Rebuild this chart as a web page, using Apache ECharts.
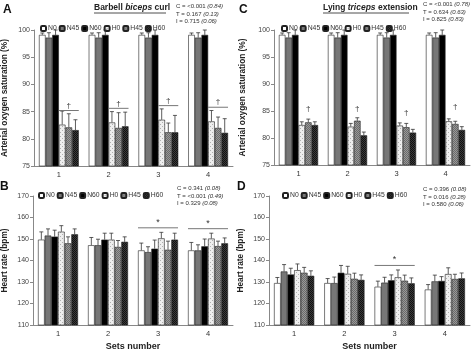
<!DOCTYPE html>
<html>
<head>
<meta charset="utf-8">
<script src="https://cdn.jsdelivr.net/npm/echarts@6/dist/echarts.min.js"></script>
<style>
  html, body { margin: 0; padding: 0; background: #fff; }
  #chart { width: 474px; height: 352px; }
</style>
</head>
<body>
<div id="chart"></div>
<script>
// categories
const sets = ['1', '2', '3', '4'];
const groups = ['N0', 'N45', 'N60', 'H0', 'H45', 'H60'];

// rows = groups (N0..H60), columns = sets 1..4
const bicepsSpO2 = [
  [99.1, 99.1, 99.1, 99.1],
  [98.6, 98.6, 98.6, 98.6],
  [99.1, 99.1, 99.1, 99.1],
  [82.6, 83.0, 83.5, 83.2],
  [82.1, 82.0, 81.2, 82.0],
  [81.6, 82.3, 81.2, 81.1]
];
const bicepsSpO2Err = [
  [0.35, 0.35, 0.35, 0.35],
  [0.9, 0.9, 0.9, 0.9],
  [0.9, 0.9, 0.9, 0.9],
  [2.5, 2.0, 2.0, 2.0],
  [2.5, 2.8, 1.7, 2.0],
  [1.9, 2.6, 3.1, 2.6]
];
const tricepsSpO2 = [
  [99.1, 99.1, 99.1, 99.1],
  [98.6, 98.6, 98.6, 98.6],
  [99.1, 99.1, 99.1, 99.1],
  [82.4, 82.1, 82.3, 83.1],
  [82.9, 83.2, 82.0, 82.6],
  [82.4, 80.5, 81.0, 81.5]
];
const tricepsSpO2Err = [
  [0.35, 0.35, 0.35, 0.35],
  [0.9, 0.9, 0.9, 0.9],
  [0.9, 0.9, 0.9, 0.9],
  [0.6, 0.6, 0.5, 0.45],
  [0.6, 0.55, 0.7, 0.5],
  [0.6, 0.6, 0.6, 0.6]
];
const bicepsHR = [
  [149.7, 147.1, 144.7, 144.7],
  [151.6, 147.1, 143.9, 144.7],
  [151.1, 149.7, 145.5, 146.6],
  [153.4, 149.7, 150.3, 150.2],
  [148.0, 146.3, 145.0, 146.7],
  [152.2, 148.7, 149.7, 148.0]
];
const bicepsHRErr = [
  [3.6, 3.6, 3.4, 3.7],
  [3.1, 2.8, 2.5, 2.6],
  [3.0, 3.0, 4.0, 3.4],
  [2.8, 3.0, 2.8, 2.5],
  [3.0, 3.0, 4.0, 2.3],
  [2.5, 2.3, 3.0, 2.5]
];
const tricepsHR = [
  [129.5, 129.5, 127.8, 126.5],
  [134.9, 129.5, 129.7, 130.3],
  [133.5, 134.3, 130.8, 130.5],
  [135.5, 133.8, 132.2, 133.7],
  [134.3, 131.5, 130.6, 131.4],
  [132.9, 131.0, 129.4, 131.7]
];
const tricepsHRErr = [
  [2.6, 2.1, 2.6, 2.3],
  [3.2, 2.8, 2.5, 2.9],
  [2.9, 3.4, 2.5, 2.0],
  [2.9, 3.5, 3.4, 2.9],
  [2.5, 2.6, 2.6, 2.2],
  [2.3, 2.3, 2.5, 2.5]
];

// significance marks (level in axis units, null = none)
const bicepsDagger = [85.2, 85.6, 86.1, 85.8];
const tricepsDagger = [85.5, 85.5, 84.6, 85.7];
const bicepsHRStar = [null, null, 155.2, 154.8];
const tricepsHRStar = [null, null, 137.7, null];

const statsA = [['C = <0.001', '(0.84)'], ['T = 0.167', '(0.13)'], ['I = 0.715', '(0.06)']];
const statsB = [['C = 0.341', '(0.08)'], ['T = <0.001', '(0.49)'], ['I = 0.329', '(0.08)']];
const statsC = [['C = <0.001', '(0.78)'], ['T = 0.634', '(0.63)'], ['I = 0.825', '(0.83)']];
const statsD = [['C = 0.396', '(0.08)'], ['T = 0.016', '(0.28)'], ['I = 0.580', '(0.06)']];

const FONT = '"Liberation Sans", Arial, sans-serif';
const GAP = 0.8; // share of category occupied by bars

function pattern(bg, fg, kind) {
  const c = document.createElement('canvas');
  c.width = 4; c.height = 4;
  const g = c.getContext('2d');
  g.fillStyle = bg; g.fillRect(0, 0, 4, 4);
  g.fillStyle = fg;
  if (kind === 'dots') {
    g.fillRect(0, 0, 1, 1); g.fillRect(2, 2, 1, 1);
  } else {
    g.fillRect(0, 0, 1, 1); g.fillRect(2, 0, 1, 1);
    g.fillRect(1, 1, 1, 1); g.fillRect(3, 1, 1, 1);
    g.fillRect(0, 2, 1, 1); g.fillRect(2, 2, 1, 1);
    g.fillRect(1, 3, 1, 1); g.fillRect(3, 3, 1, 1);
  }
  return { image: c, repeat: 'repeat' };
}

const fills = [
  '#ffffff',
  '#777777',
  '#000000',
  pattern('#eeeeee', '#b0b0b0', 'dots'),
  pattern('#999999', '#6a6a6a', 'check'),
  pattern('#3a3a3a', '#111111', 'check')
];

function barX(api, cat, idx) {
  const center = api.coord([cat, 0])[0];
  const band = api.size([1, 0])[0];
  const bw = band * GAP / groups.length;
  return { x: center - band * GAP / 2 + (idx + 0.5) * bw, bw: bw };
}

const panels = [
  { mean: bicepsSpO2, err: bicepsSpO2Err, min: 75, max: 100, step: 5, left: 33, right: 241, top: 30, height: 136,
    yName: 'Arterial oxygen saturation (%)', nameGap: 25, xName: '' },
  { mean: tricepsSpO2, err: tricepsSpO2Err, min: 75, max: 100, step: 5, left: 274, right: 4, top: 30, height: 135,
    yName: 'Arterial oxygen saturation (%)', nameGap: 27, xName: '' },
  { mean: bicepsHR, err: bicepsHRErr, min: 110, max: 170, step: 10, left: 32, right: 241, top: 196, height: 131,
    yName: 'Heart rate (bpm)', nameGap: 24, xName: 'Sets number' },
  { mean: tricepsHR, err: tricepsHRErr, min: 110, max: 170, step: 10, left: 269, right: 4, top: 196, height: 130,
    yName: 'Heart rate (bpm)', nameGap: 24, xName: 'Sets number' }
];

const grid = [], xAxis = [], yAxis = [], series = [];
panels.forEach(function (p, k) {
  grid.push({ left: p.left, right: p.right, top: p.top, height: p.height });
  xAxis.push({
    type: 'category', gridIndex: k, data: sets,
    axisLine: { lineStyle: { color: '#888', width: 1 } },
    axisTick: { length: 3, lineStyle: { color: '#888' } },
    axisLabel: { fontSize: 7.5, color: '#333', margin: 5, fontFamily: FONT },
    name: p.xName, nameLocation: 'middle', nameGap: 17,
    nameTextStyle: { fontSize: 9, fontWeight: 'bold', color: '#222', fontFamily: FONT }
  });
  yAxis.push({
    type: 'value', gridIndex: k, min: p.min, max: p.max, interval: p.step,
    splitLine: { show: false },
    axisLine: { show: true, lineStyle: { color: '#888', width: 1 } },
    axisTick: { show: true, length: 3, lineStyle: { color: '#888' } },
    axisLabel: { fontSize: 7, color: '#444', margin: 4, fontFamily: FONT },
    name: p.yName, nameLocation: 'middle', nameGap: p.nameGap, nameRotate: 90,
    nameTextStyle: { fontSize: 8.3, fontWeight: 'bold', color: '#222', fontFamily: FONT }
  });
  groups.forEach(function (g, i) {
    series.push({
      type: 'bar', name: g, xAxisIndex: k, yAxisIndex: k,
      data: p.mean[i],
      barGap: '0%', barCategoryGap: ((1 - GAP) * 100) + '%',
      itemStyle: { color: fills[i], borderColor: '#222', borderWidth: 0.6 },
      emphasis: { disabled: true }, animation: false
    });
  });
  const errData = [];
  groups.forEach(function (g, i) {
    sets.forEach(function (s, c) { errData.push([c, i, p.mean[i][c], p.err[i][c]]); });
  });
  series.push({
    type: 'custom', xAxisIndex: k, yAxisIndex: k, data: errData, z: 5,
    encode: { x: 0, y: 2 }, animation: false, silent: true,
    renderItem: function (params, api) {
      const c = api.value(0), i = api.value(1), v = api.value(2), e = api.value(3);
      const pos = barX(api, c, i);
      const y0 = api.coord([c, v])[1];
      const y1 = api.coord([c, v + e])[1];
      const cap = pos.bw * 0.3;
      const st = { stroke: '#333', lineWidth: 0.8 };
      return { type: 'group', children: [
        { type: 'line', shape: { x1: pos.x, y1: y0, x2: pos.x, y2: y1 }, style: st },
        { type: 'line', shape: { x1: pos.x - cap, y1: y1, x2: pos.x + cap, y2: y1 }, style: st }
      ] };
    }
  });
});

function markSeries(k, levels, kind) {
  const data = [];
  levels.forEach(function (v, c) { if (v !== null) data.push([c, v]); });
  return {
    type: 'custom', xAxisIndex: k, yAxisIndex: k, data: data, z: 6,
    encode: { x: 0, y: 1 }, animation: false, silent: true,
    renderItem: function (params, api) {
      const c = api.value(0), v = api.value(1);
      const y = api.coord([c, v])[1];
      const children = [];
      const txtStyle = { fill: '#333', align: 'center', verticalAlign: 'bottom', fontFamily: FONT };
      if (kind === 'daggerLine') {
        const a = barX(api, c, 3), b = barX(api, c, 5), m = barX(api, c, 4);
        children.push({ type: 'line', shape: { x1: a.x - a.bw / 2, y1: y, x2: b.x + b.bw / 2, y2: y },
          style: { stroke: '#777', lineWidth: 1 } });
        children.push({ type: 'text', style: Object.assign({ text: '†', x: m.x, y: y - 1, fontSize: 8 }, txtStyle) });
      } else if (kind === 'dagger') {
        const m = barX(api, c, 4);
        children.push({ type: 'text', style: Object.assign({ text: '†', x: m.x, y: y + 4, fontSize: 8 }, txtStyle) });
      } else {
        const a = barX(api, c, 0), b = barX(api, c, 5);
        const mid = (a.x + b.x) / 2;
        children.push({ type: 'line', shape: { x1: a.x - a.bw / 2, y1: y, x2: b.x + b.bw / 2, y2: y },
          style: { stroke: '#777', lineWidth: 1 } });
        children.push({ type: 'text', style: Object.assign({ text: '*', x: mid, y: y - 1, fontSize: 9 }, txtStyle) });
      }
      return { type: 'group', children: children };
    }
  };
}
series.push(markSeries(0, bicepsDagger, 'daggerLine'));
series.push(markSeries(1, tricepsDagger, 'dagger'));
series.push(markSeries(2, bicepsHRStar, 'star'));
series.push(markSeries(3, tricepsHRStar, 'star'));

function legendAt(left, top) {
  return {
    left: left, top: top, data: groups, orient: 'horizontal',
    itemWidth: 5, itemHeight: 5, itemGap: 2, selectedMode: false,
    textStyle: { fontSize: 6.8, color: '#333', fontFamily: FONT, padding: [0, 0, 0, -3] }
  };
}

function statsText(x, y, rows) {
  return {
    type: 'text', left: x, top: y,
    style: {
      text: rows.map(function (r) { return r[0] + ' {i|' + r[1] + '}'; }).join('\n'),
      fontSize: 6, lineHeight: 7.3, fill: '#333', fontFamily: FONT,
      rich: { i: { fontStyle: 'italic', fontSize: 6, fill: '#333', fontFamily: FONT } }
    }
  };
}

function letter(x, y, t) {
  return { type: 'text', left: x, top: y,
    style: { text: t, fontSize: 12, fontWeight: 'bold', fill: '#111', fontFamily: FONT } };
}

function titleText(cx, y, pre, it, post, width) {
  return [
    { type: 'text', left: cx - width / 2, top: y,
      style: { text: pre + '{i|' + it + '}' + post, fontSize: 8.5, fontWeight: 'bold', fill: '#222', fontFamily: FONT,
        rich: { i: { fontStyle: 'italic', fontWeight: 'bold', fontSize: 8.5, fill: '#222', fontFamily: FONT } } } },
    { type: 'line', shape: { x1: cx - width / 2, y1: y + 10, x2: cx + width / 2, y2: y + 10 },
      style: { stroke: '#222', lineWidth: 0.8 } }
  ];
}

const chart = echarts.init(document.getElementById('chart'), null, { renderer: 'canvas' });
chart.setOption({
  animation: false,
  backgroundColor: '#fff',
  textStyle: { fontFamily: FONT },
  grid: grid, xAxis: xAxis, yAxis: yAxis, series: series,
  legend: [legendAt(35, 20), legendAt(276, 20), legendAt(33, 187), legendAt(277, 187)],
  graphic: [
    letter(3, 4, 'A'), letter(239, 4, 'C'), letter(0, 181, 'B'), letter(237, 181, 'D'),
    statsText(176, 3, statsA), statsText(423, 1, statsC), statsText(177, 185, statsB), statsText(423, 186, statsD)
  ].concat(titleText(130, 3, 'Barbell ', 'biceps', ' curl', 72))
   .concat(titleText(366, 3, 'Lying ', 'triceps', ' extension', 86))
});
</script>
</body>
</html>
